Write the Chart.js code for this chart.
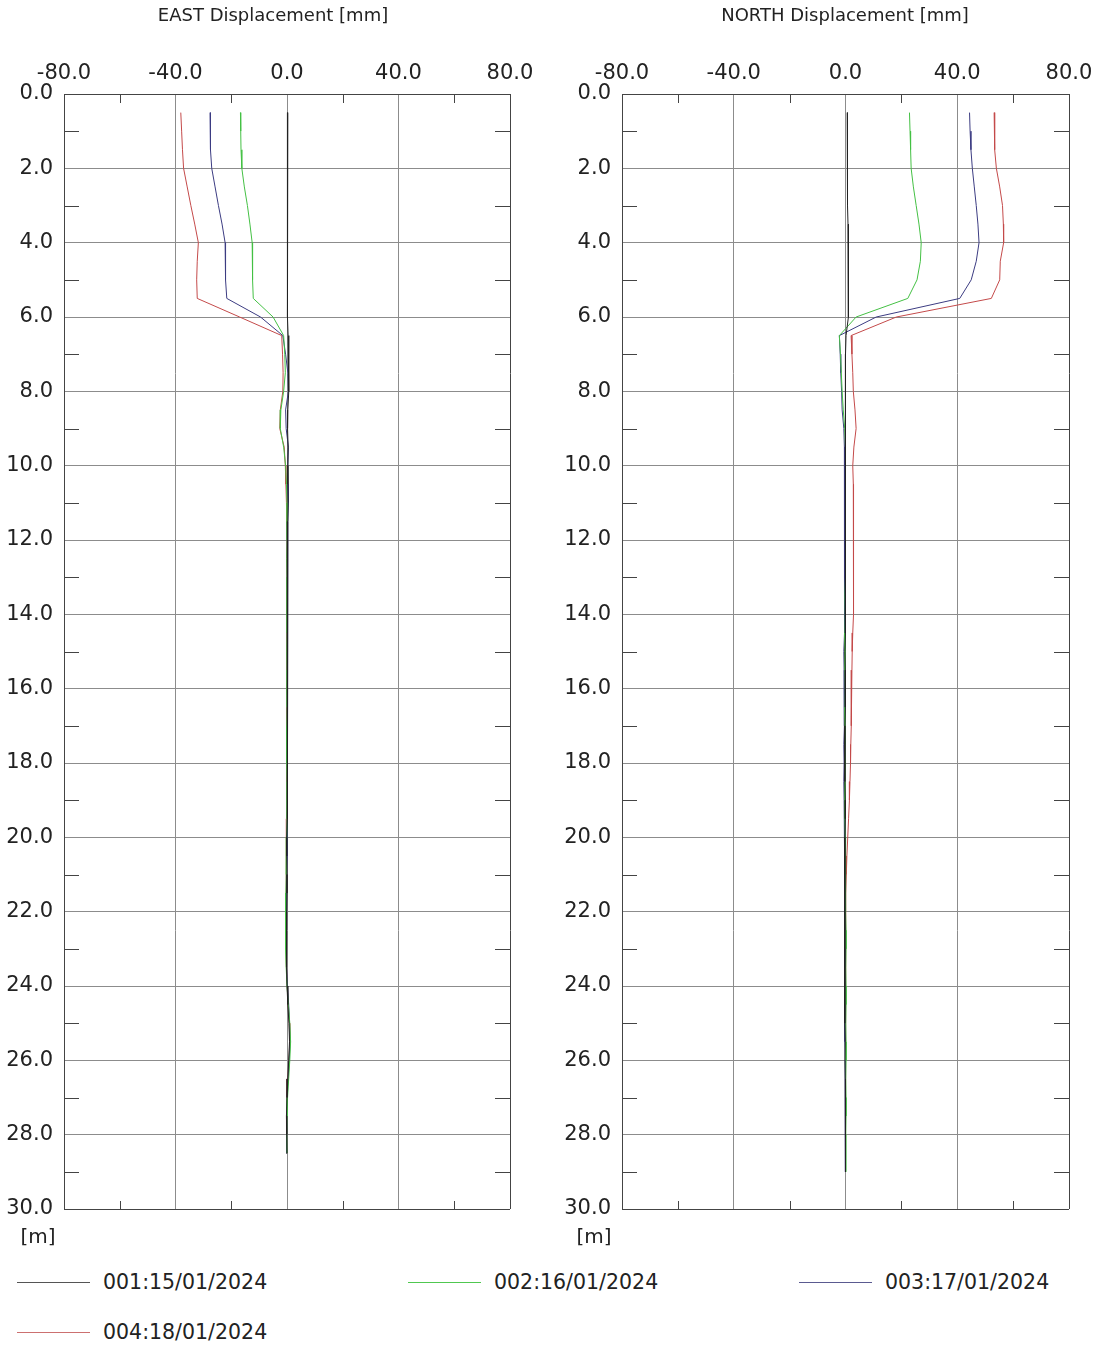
<!DOCTYPE html>
<html>
<head>
<meta charset="utf-8">
<script src="https://cdn.jsdelivr.net/npm/chart.js@4/dist/chart.umd.min.js"></script>
<style>
    body { margin: 0; background: #fff; font-family: "DejaVu Sans", Verdana, sans-serif; color: #222; }
    #page { position: relative; width: 1103px; height: 1349px; }
    canvas { position: absolute; top: 0; }
    .panelTitle { position: absolute; top: 4px; font-size: 18px; white-space: nowrap; transform: translateX(-50%); }
    .unit { position: absolute; top: 1224px; font-size: 20px; transform: translateX(-50%); }
    .legendItem { position: absolute; font-size: 20.5px; white-space: nowrap; }
    .legendItem span.swatch { position: absolute; left: 0; top: 12px; width: 73px; height: 0; border-top: 1px solid; }
    .legendItem span.text { position: absolute; left: 86px; top: 0; }
</style>
</head>
<body>
<div id="page">
    <canvas id="eastChart" width="550" height="1260" style="left:0"></canvas>
    <canvas id="northChart" width="547" height="1260" style="left:556px"></canvas>
    <div class="panelTitle" style="left:273px">EAST Displacement [mm]</div>
    <div class="panelTitle" style="left:845px">NORTH Displacement [mm]</div>
    <div class="unit" style="left:38px">[m]</div>
    <div class="unit" style="left:594px">[m]</div>
    <div id="legend"></div>
</div>
<script>
// depth of each reading [m]
const depths = [0.5, 1.0, 1.5, 2.0, 2.5, 3.0, 3.5, 4.0, 4.5, 5.0, 5.5, 6.0,
    6.5, 7.0, 7.5, 8.0, 8.5, 9.0, 9.5, 10.0, 10.5, 11.0, 11.5, 12.0, 12.5, 13.0, 13.5, 14.0,
    14.5, 15.0, 15.5, 16.0, 16.5, 17.0, 17.5, 18.0, 18.5, 19.0, 19.5, 20.0, 20.5, 21.0, 21.5, 22.0,
    22.5, 23.0, 23.5, 24.0, 24.5, 25.0, 25.5, 26.0, 26.5, 27.0, 27.5, 28.0, 28.5, 29.0];

const seriesLabels = ['001:15/01/2024', '002:16/01/2024', '003:17/01/2024', '004:18/01/2024'];
const seriesColors = ['#222222', '#44c044', '#3c3c82', '#c44a4a'];
const legendColors = ['#555555', '#50c850', '#5a5a90', '#cc7070'];

// EAST displacement [mm]
const east001 = [0.3, 0.3, 0.3, 0.2, 0.2, 0.1, 0.1, 0.1, 0.1, 0.1, 0.1, 0.2,
    0.4, 0.6, 0.7, 0.6, 0.3, 0.2, 0.4, 0.3, 0.3, 0.4, 0.3, 0.2, 0.2, 0.3, 0.2, 0.2,
    0.1, 0.2, 0.2, 0.1, 0.1, 0.2, 0.1, 0.1, 0.1, 0.0, 0.0, -0.1, -0.1, 0.0, 0.0, -0.1,
    -0.2, -0.2, -0.1, 0.0, 0.3, 0.7, 0.9, 0.6, 0.3, 0.0, -0.2, -0.1, 0.0, null];
const east002 = [-16.7, -16.6, -16.5, -16.2, -15.3, -14.2, -13.3, -12.5, -12.3, -12.4, -12.1, -5.0,
    -1.2, -0.8, -0.6, -1.2, -2.2, -2.4, -1.2, -0.5, -0.2, 0.0, 0.1, 0.0, -0.1, 0.0, 0.1, 0.0,
    0.0, -0.1, 0.0, 0.1, 0.0, -0.1, -0.2, -0.1, 0.0, 0.1, 0.0, -0.1, -0.2, -0.3, -0.4, -0.5,
    -0.6, -0.5, -0.3, 0.0, 0.5, 1.0, 1.3, 1.0, 0.6, 0.2, 0.0, -0.1, 0.0, null];
const east003 = [-27.6, -27.5, -27.4, -27.0, -25.8, -24.6, -23.3, -22.2, -22.0, -22.1, -21.6, -9.5,
    -1.5, -0.5, 0.3, 0.5, -0.5, -0.3, 0.5, 0.3, 0.4, 0.5, 0.3, 0.2, 0.3, 0.2, 0.1, 0.2,
    0.2, 0.1, 0.1, 0.2, 0.1, 0.0, 0.1, 0.1, 0.0, 0.1, 0.2, 0.1, 0.0, -0.1, -0.1, -0.2,
    -0.2, -0.3, -0.1, 0.2, 0.6, 0.9, 1.1, 0.8, 0.4, 0.1, -0.1, -0.2, -0.1, null];
const east004 = [-38.1, -37.8, -37.5, -37.1, -35.8, -34.5, -33.1, -31.8, -32.2, -32.4, -32.2, -17.0,
    -1.9, -1.6, -1.4, -1.5, -2.4, -2.6, -1.0, -0.6, -0.4, -0.2, -0.1, 0.0, -0.1, 0.0, 0.0, 0.1,
    0.0, 0.1, 0.0, -0.1, 0.0, 0.0, -0.1, 0.0, 0.0, 0.0, -0.1, -0.1, -0.2, -0.2, -0.3, -0.3,
    -0.4, -0.3, -0.2, 0.1, 0.4, 0.8, 1.0, 0.7, 0.3, 0.0, -0.2, -0.2, -0.1, null];

// NORTH displacement [mm]
const north001 = [0.6, 0.6, 0.7, 0.7, 0.8, 0.8, 0.9, 0.9, 1.0, 1.0, 1.1, 1.2,
    0.2, 0.0, -0.1, 0.0, 0.1, 0.0, -0.1, 0.0, 0.0, 0.1, 0.0, -0.1, 0.0, 0.0, -0.1, 0.0,
    -0.1, -0.2, -0.1, 0.0, -0.1, -0.2, -0.3, -0.2, -0.2, -0.1, -0.1, -0.2, -0.2, -0.3, -0.3, -0.2,
    -0.3, -0.3, -0.2, -0.3, -0.2, -0.2, -0.1, -0.2, -0.1, -0.1, 0.0, 0.0, 0.0, 0.1];
const north002 = [22.9, 23.1, 23.3, 23.5, 24.3, 25.3, 26.3, 27.1, 26.8, 25.6, 22.3, 3.8,
    -2.2, -1.8, -1.5, -1.2, -0.8, -0.3, 0.0, 0.1, 0.0, -0.1, 0.0, 0.1, 0.0, -0.1, -0.2, -0.1,
    -0.2, -0.3, -0.2, -0.1, -0.2, -0.3, -0.2, -0.1, -0.2, -0.3, -0.2, -0.1, -0.1, 0.0, 0.1, 0.1,
    0.2, 0.2, 0.1, 0.2, 0.2, 0.1, 0.2, 0.2, 0.1, 0.2, 0.2, 0.1, 0.1, 0.1];
const north003 = [44.4, 44.6, 44.9, 45.4, 46.1, 46.8, 47.4, 47.8, 46.8, 45.0, 40.9, 11.0,
    -2.2, -1.9, -1.7, -1.4, -1.2, -0.6, -0.4, -0.4, -0.5, -0.3, -0.2, -0.4, -0.5, -0.3, -0.2, -0.3,
    -0.4, -0.6, -0.5, -0.3, -0.4, -0.5, -0.6, -0.5, -0.6, -0.5, -0.4, -0.3, -0.2, -0.2, -0.1, -0.2,
    -0.1, -0.2, -0.2, -0.1, -0.2, -0.3, -0.2, -0.1, -0.1, 0.0, 0.0, -0.1, 0.0, 0.0];
const north004 = [53.2, 53.3, 53.5, 54.0, 55.2, 56.2, 56.5, 56.6, 55.4, 55.2, 52.2, 18.2,
    2.0, 2.3, 2.6, 2.8, 3.4, 3.8, 3.0, 2.6, 2.8, 3.0, 2.9, 2.9, 3.0, 2.8, 2.7, 2.8,
    2.6, 2.4, 2.3, 2.2, 2.0, 2.0, 1.9, 1.8, 1.6, 1.4, 1.1, 0.8, 0.5, 0.3, 0.1, 0.0,
    0.0, -0.1, 0.0, 0.0, 0.1, 0.0, -0.1, 0.0, 0.0, 0.0, 0.1, 0.0, 0.0, 0.0];

const xMinorTicks = [-60, -20, 20, 60];
const yMinorTicks = [1, 3, 5, 7, 9, 11, 13, 15, 17, 19, 21, 23, 25, 27, 29];

const frameColor = '#444444';
const gridColor = '#8c8c8c';
const tickFont = { family: '"DejaVu Sans", Verdana, sans-serif', size: 21 };

// short inner tick marks at the half steps, like the original plot
const minorTicks = {
    id: 'minorTicks',
    beforeDatasetsDraw(chart) {
        const { ctx, chartArea, scales } = chart;
        ctx.save();
        ctx.strokeStyle = frameColor;
        ctx.lineWidth = 1;
        ctx.beginPath();
        xMinorTicks.forEach(v => {
            const px = Math.round(scales.x.getPixelForValue(v)) + 0.5;
            ctx.moveTo(px, chartArea.top);
            ctx.lineTo(px, chartArea.top + 9);
            ctx.moveTo(px, chartArea.bottom);
            ctx.lineTo(px, chartArea.bottom - 8);
        });
        yMinorTicks.forEach(v => {
            const py = Math.round(scales.y.getPixelForValue(v)) + 0.5;
            ctx.moveTo(chartArea.left, py);
            ctx.lineTo(chartArea.left + 15, py);
            ctx.moveTo(chartArea.right, py);
            ctx.lineTo(chartArea.right - 15, py);
        });
        ctx.stroke();
        ctx.restore();
    }
};

function makeChart(canvasId, seriesValues, yAxisWidth, rightPad) {
    const ctx = document.getElementById(canvasId).getContext('2d');
    return new Chart(ctx, {
        type: 'line',
        data: {
            datasets: seriesValues.map((vals, i) => ({
                label: seriesLabels[i],
                data: depths.map((d, j) => ({ x: vals[j], y: d })),
                borderColor: seriesColors[i],
                borderWidth: 1,
                pointRadius: 0,
                fill: false,
                tension: 0,
                spanGaps: false
            }))
        },
        options: {
            responsive: false,
            animation: false,
            layout: { padding: { left: 0, top: 0, right: rightPad, bottom: 51 } },
            plugins: { legend: { display: false }, tooltip: { enabled: false } },
            scales: {
                x: {
                    type: 'linear',
                    position: 'top',
                    min: -80,
                    max: 80,
                    afterFit: s => { s.height = 94; },
                    ticks: {
                        stepSize: 40,
                        padding: 8,
                        color: '#222',
                        font: tickFont,
                        maxRotation: 0,
                        callback: v => v.toFixed(1)
                    },
                    grid: {
                        drawTicks: false,
                        color: c => (Math.abs(c.tick.value) === 80 ? frameColor : gridColor)
                    },
                    border: { color: frameColor }
                },
                y: {
                    type: 'linear',
                    reverse: true,
                    min: 0,
                    max: 30,
                    afterFit: s => { s.width = yAxisWidth; },
                    ticks: {
                        stepSize: 2,
                        padding: 11,
                        color: '#222',
                        font: tickFont,
                        autoSkip: false,
                        callback: v => v.toFixed(1)
                    },
                    grid: {
                        drawTicks: false,
                        color: c => (c.tick.value === 30 ? frameColor : gridColor)
                    },
                    border: { color: frameColor }
                }
            }
        },
        plugins: [minorTicks]
    });
}

makeChart('eastChart', [east001, east002, east003, east004], 64, 40);
makeChart('northChart', [north001, north002, north003, north004], 66, 34);

// legend, three columns
const legend = document.getElementById('legend');
seriesLabels.forEach((label, i) => {
    const item = document.createElement('div');
    item.className = 'legendItem';
    item.style.left = (17 + (i % 3) * 391) + 'px';
    item.style.top = (1270 + Math.floor(i / 3) * 50) + 'px';
    item.innerHTML = `<span class="swatch" style="border-color:${legendColors[i]}"></span><span class="text">${label}</span>`;
    legend.appendChild(item);
});
</script>
</body>
</html>
